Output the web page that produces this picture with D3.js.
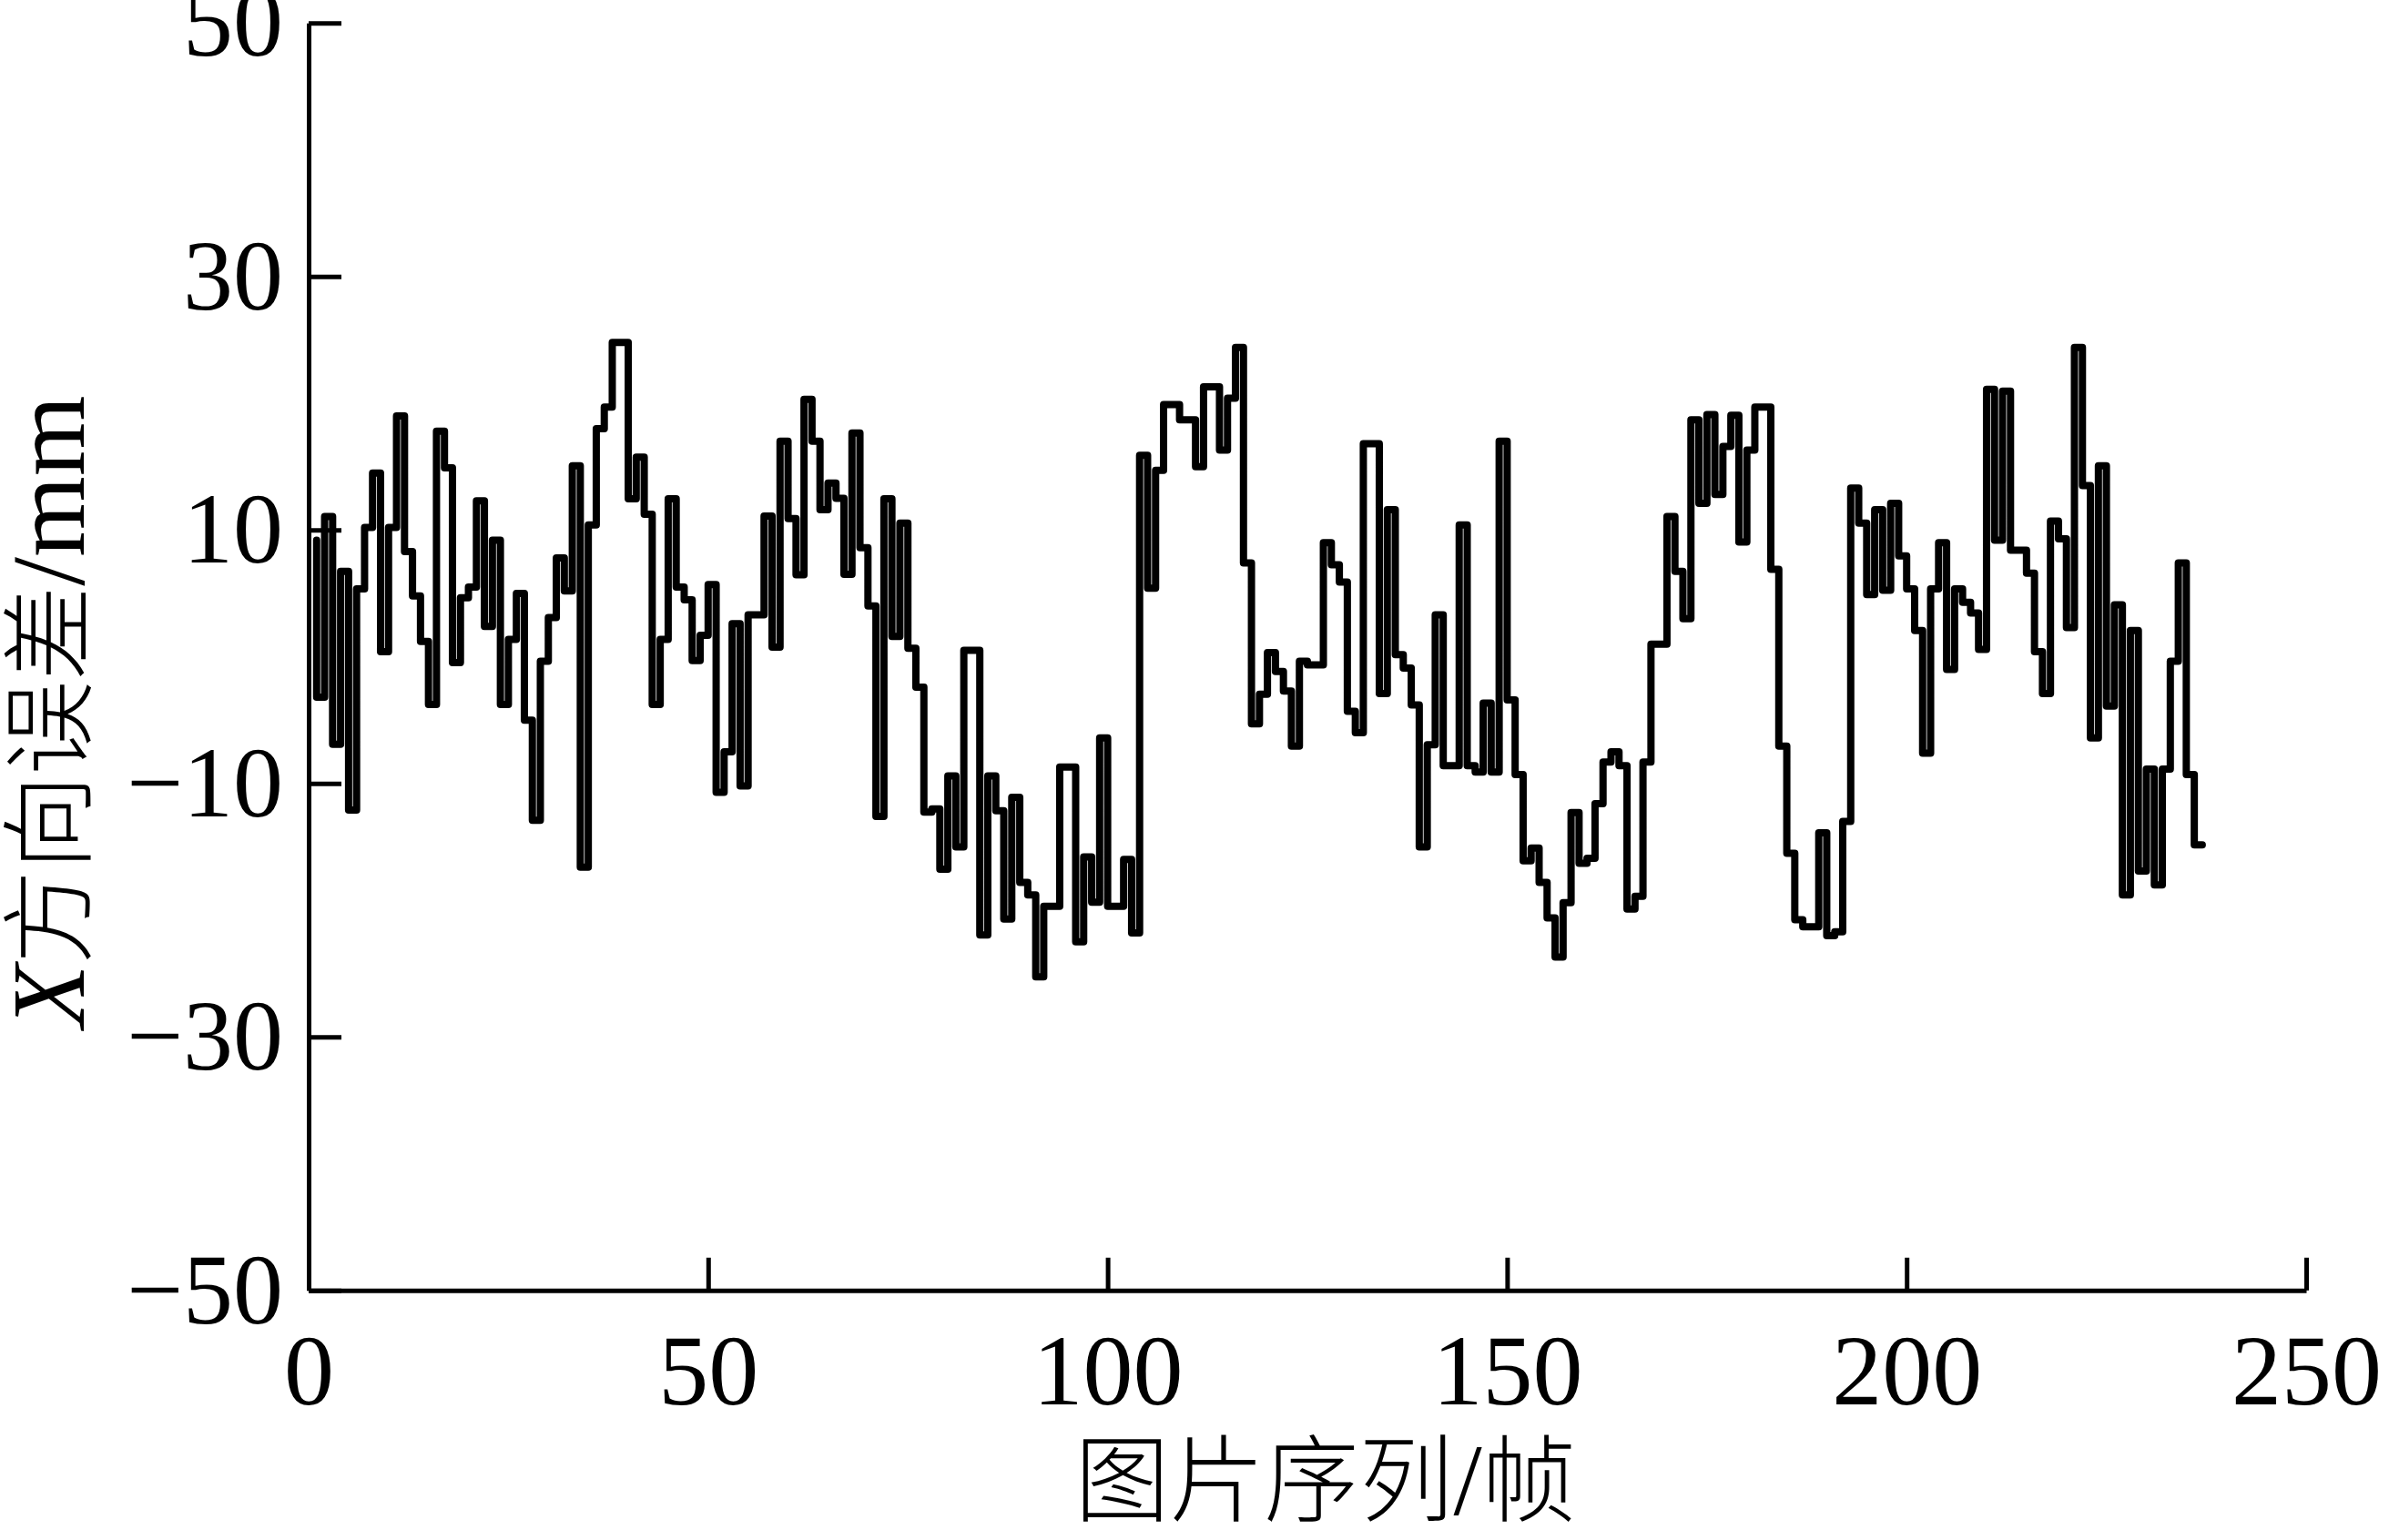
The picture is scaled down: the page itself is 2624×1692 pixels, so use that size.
<!DOCTYPE html>
<html><head><meta charset="utf-8">
<script src="https://cdn.jsdelivr.net/npm/d3@7"></script>
<style>html,body{margin:0;padding:0;background:#fff;} svg{display:block;}</style>
</head><body>
<svg id="chart" width="2624" height="1692"></svg>
<script>
// ---- data ----
const xTicks = [0, 50, 100, 150, 200, 250];
const yTicks = [-50, -30, -10, 10, 30, 50];
const xTitleCJK = "图片序列";
const xTitleUnit = "帧";
const yTitleVar = "X";
const yTitleCJK = "方向误差";
const yTitleUnit = "mm";
const firstFrame = 1;
const lastFrame = 237;
const startValue = 9.2;           // value the trace starts from at frame 1
// X-direction error (mm) held over frames 1,2,3,...,236
const errorX = [
  -3.2, 11.07, -6.9, 6.74, -12.1, 5.35, 10.2, 14.5, 0.4, 10.2,
  19.0, 8.3, 4.8, 1.2, -3.76, 17.8, 14.9, -0.47, 4.66, 5.5,
  12.3, 2.4, 9.2, -3.76, 1.37, 5.0, -5.0, -12.9, -0.36, 3.1,
  7.8, 5.2, 15.06, -16.6, 10.4, 18.0, 19.7, 24.8, 24.8, 12.46,
  15.75, 11.25, -3.76, 1.37, 12.46, 5.5, 4.5, -0.3, 1.7, 5.7,
  -10.7, -7.5, 2.6, -10.2, 3.3, 3.3, 11.1, 0.75, 17.0, 10.9,
  6.46, 20.3, 17.0, 11.6, 13.7, 12.5, 6.5, 17.66, 8.6, 4.0,
  -12.6, 12.46, 1.6, 10.55, 0.67, -2.4, -12.25, -12.0, -16.76, -9.4,
  -15.0, 0.5, 0.5, -21.96, -9.4, -12.15, -20.7, -11.1, -17.8, -18.8,
  -25.25, -19.7, -19.7, -8.7, -8.7, -22.5, -15.8, -19.36, -6.4, -19.7,
  -19.7, -16.0, -21.8, 15.9, 5.4, 14.7, 19.9, 19.9, 18.7, 18.7,
  15.0, 21.3, 21.3, 16.3, 20.4, 24.4, 7.4, -5.3, -2.96, 0.33,
  -1.16, -2.7, -7.05, -0.36, -0.64, -0.64, 9.0, 7.26, 5.9, -4.3,
  -6.0, 16.8, 16.8, -2.9, 11.6, 0.16, -0.9, -3.8, -15.0, -6.95,
  3.3, -8.6, -8.6, 10.4, -8.6, -9.1, -3.66, -9.1, 17.0, -3.4,
  -9.3, -16.1, -15.1, -17.8, -20.6, -23.7, -19.4, -12.3, -16.3, -15.9,
  -11.6, -8.3, -7.5, -8.6, -19.9, -18.9, -8.3, 1.0, 1.0, 11.07,
  6.74, 3.0, 18.7, 12.1, 19.1, 12.8, 16.6, 19.05, 9.06, 16.3,
  19.7, 19.7, 6.9, -7.05, -15.5, -20.75, -21.3, -21.3, -13.9, -22.0,
  -21.7, -13.0, 13.3, 10.55, 4.9, 11.6, 5.25, 12.1, 7.95, 5.35,
  2.06, -7.6, 5.35, 9.0, -1.0, 5.35, 4.3, 3.45, 0.57, 21.1,
  9.2, 20.95, 8.4, 8.4, 6.6, 0.4, -2.9, 10.7, 9.3, 2.3,
  24.4, 13.5, -6.4, 15.06, -3.9, 4.1, -18.8, 2.06, -16.9, -8.86,
  -18.0, -8.86, -0.36, 7.4, -9.3, -14.85
];

// ---- chart ----
const svg = d3.select("#chart");
const x = d3.scaleLinear().domain([0, 250]).range([339, 2533]);
const y = d3.scaleLinear().domain([-50, 50]).range([1417.8, 25.3]);

const points = [{f: firstFrame, v: startValue}]
  .concat(errorX.map((v, i) => ({f: firstFrame + i, v})))
  .concat([{f: lastFrame, v: errorX[errorX.length - 1]}]);

const line = d3.line().x(d => x(d.f)).y(d => y(d.v)).curve(d3.curveStepAfter);

svg.append("path")
  .datum(points)
  .attr("d", line)
  .attr("fill", "none")
  .attr("stroke", "#000")
  .attr("stroke-width", 8)
  .attr("stroke-linejoin", "round")
  .attr("stroke-linecap", "round");

const serif = "'Liberation Serif','Times New Roman',serif";
const cjk = "'Noto Sans CJK SC','Noto Sans CJK JP',sans-serif";

const yAxis = svg.append("g")
  .attr("transform", `translate(${x(0)},0)`)
  .call(d3.axisLeft(y).tickValues(yTicks).tickSizeInner(-36).tickSizeOuter(0).tickPadding(28).tickFormat(d3.format("d")));
const xAxis = svg.append("g")
  .attr("transform", `translate(0,${y(-50)})`)
  .call(d3.axisBottom(x).tickValues(xTicks).tickSizeInner(-36).tickSizeOuter(0).tickPadding(47).tickFormat(d3.format("d")));

[yAxis, xAxis].forEach(g => {
  g.select(".domain").attr("stroke", "#000").attr("stroke-width", 5);
  g.selectAll(".tick line").attr("stroke", "#000").attr("stroke-width", 5);
  g.selectAll(".tick text").attr("fill", "#000")
    .style("font-family", serif).style("font-size", "110px");
});

// x title
const xt = svg.append("text")
  .attr("x", 1456).attr("y", 1664)
  .attr("text-anchor", "middle")
  .style("font-size", "104px").attr("fill", "#000");
xt.append("tspan").style("font-family", cjk).style("font-weight", 300).text(xTitleCJK);
xt.append("tspan").style("font-family", serif).style("font-size", "112px").text("/");
xt.append("tspan").style("font-family", cjk).style("font-weight", 300).text(xTitleUnit);

// y title
const yt = svg.append("text")
  .attr("transform", "translate(92,782) rotate(-90)")
  .attr("text-anchor", "middle")
  .style("font-size", "104px").attr("fill", "#000");
yt.append("tspan").style("font-family", serif).style("font-style", "italic").style("font-size", "114px").text(yTitleVar);
yt.append("tspan").style("font-family", cjk).style("font-weight", 300).text(yTitleCJK);
yt.append("tspan").style("font-family", serif).style("font-size", "114px").text("/" + yTitleUnit);
</script>
</body></html>
